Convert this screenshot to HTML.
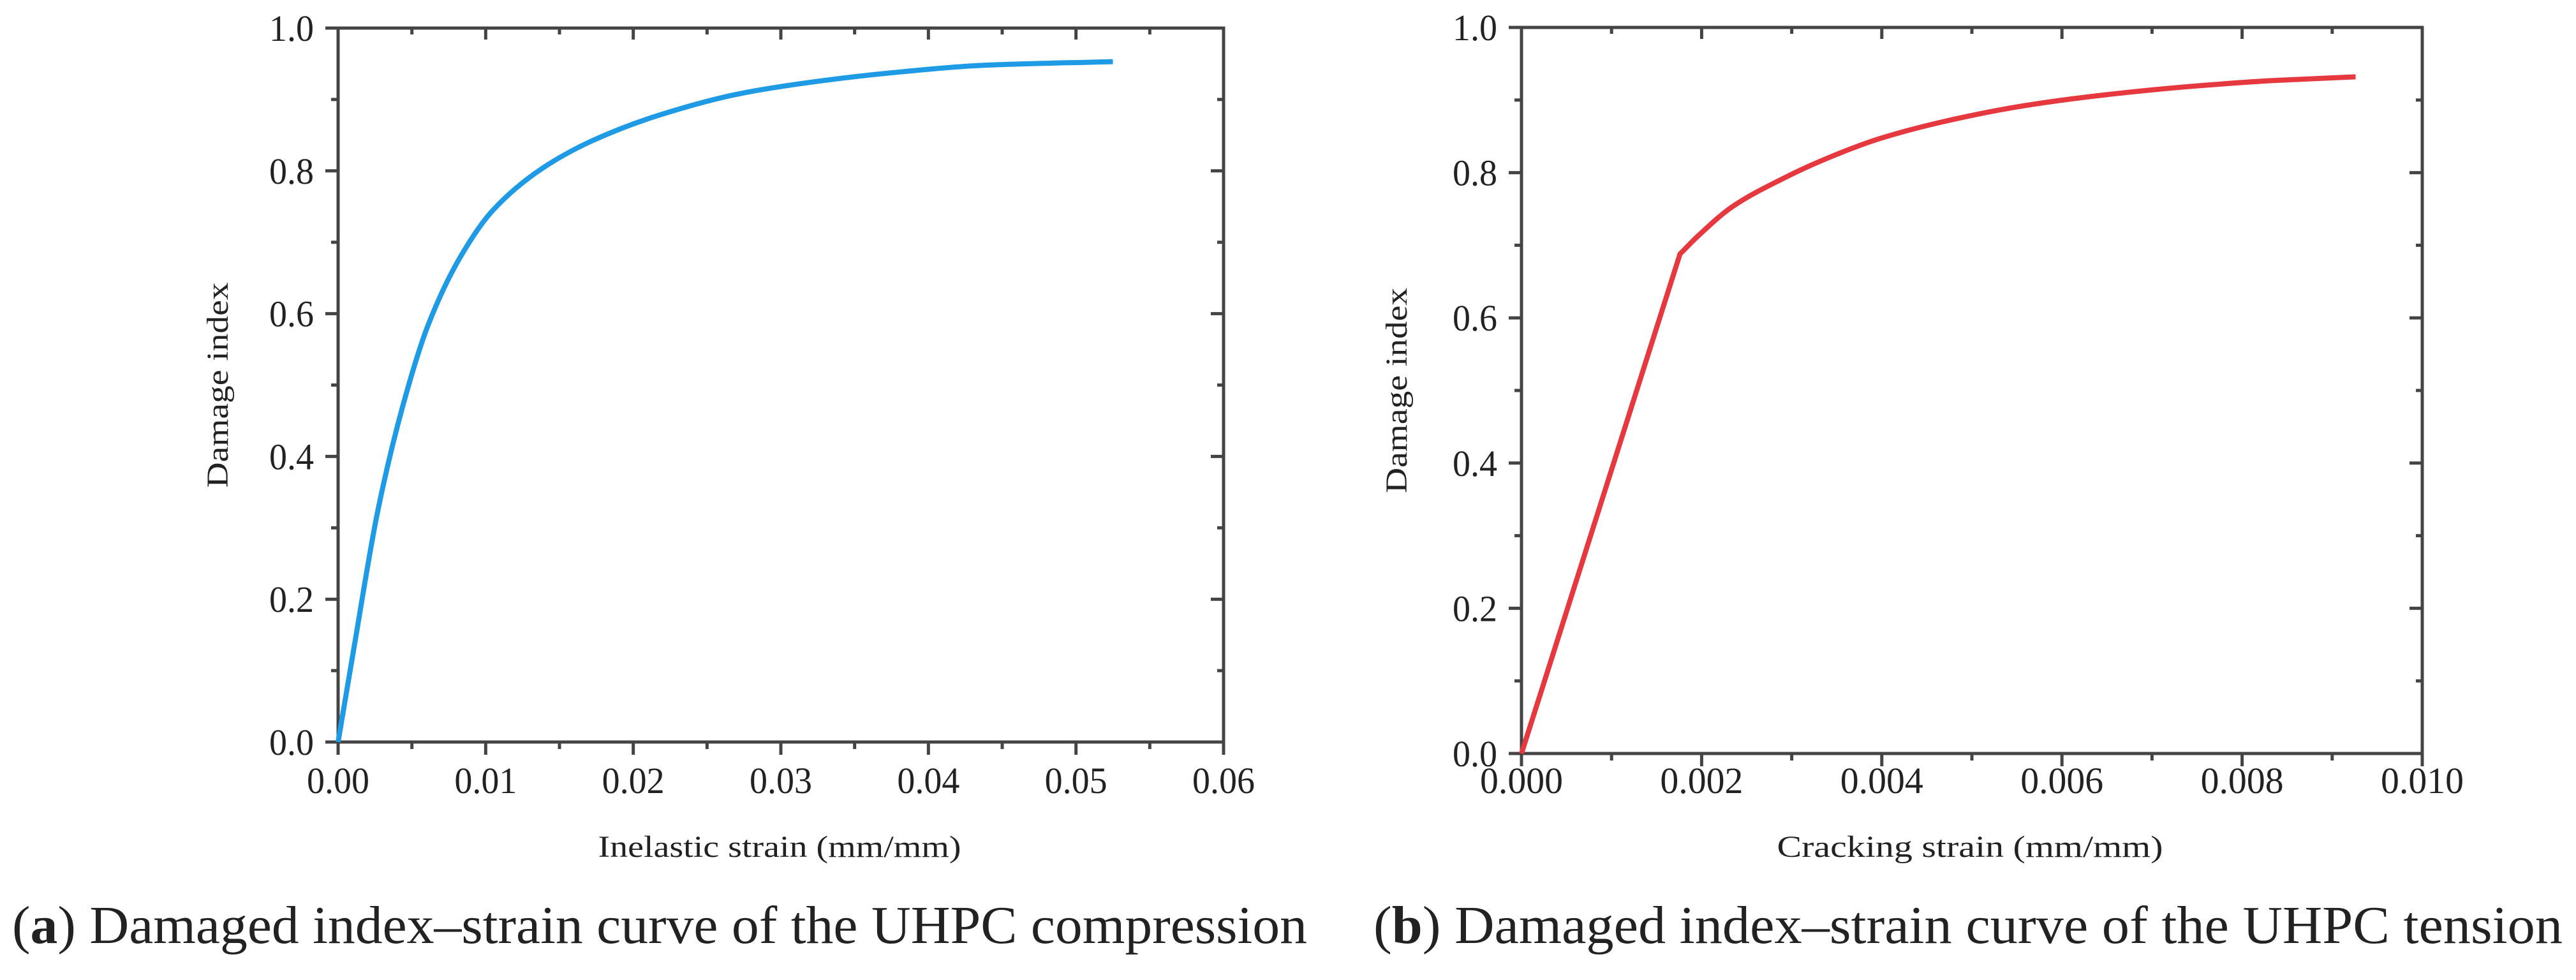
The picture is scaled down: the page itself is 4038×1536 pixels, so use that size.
<!DOCTYPE html>
<html><head><meta charset="utf-8"><style>
html,body{margin:0;padding:0;background:#fff;}
svg{display:block;}
text{font-family:"Liberation Serif",serif;fill:#222;}
</style></head><body>
<svg id="fig" width="4038" height="1536" viewBox="0 0 4038 1536" xmlns="http://www.w3.org/2000/svg">
<g id="panelA"></g>
<g id="panelB"></g>
<text x="19" y="1478" font-size="84" textLength="2030" lengthAdjust="spacingAndGlyphs">(<tspan font-weight="bold">a</tspan>) Damaged index–strain curve of the UHPC compression</text>
<text x="2153" y="1478" font-size="84" textLength="1864" lengthAdjust="spacingAndGlyphs">(<tspan font-weight="bold">b</tspan>) Damaged index–strain curve of the UHPC tension</text>
</svg>
<script>
// Panel A data (compression)
const aStrain = [0, 0.00106, 0.0027, 0.0044, 0.0061, 0.0083, 0.0105, 0.0138, 0.0172, 0.0216, 0.0272, 0.0327, 0.0383, 0.0438, 0.0525];
const aDamage = [0, 0.13, 0.325, 0.472, 0.584, 0.68, 0.745, 0.803, 0.842, 0.877, 0.908, 0.926, 0.939, 0.948, 0.953];
const aXTicks = [0, 0.01, 0.02, 0.03, 0.04, 0.05, 0.06];
const aXTickLabels = ["0.00", "0.01", "0.02", "0.03", "0.04", "0.05", "0.06"];
// Panel B data (tension)
const bStrain = [0, 0.00176, 0.00197, 0.00234, 0.00289, 0.00334, 0.00398, 0.00471, 0.00562, 0.00654, 0.00745, 0.00836, 0.00926];
const bDamage = [0, 0.688, 0.714, 0.753, 0.791, 0.817, 0.847, 0.871, 0.893, 0.908, 0.919, 0.927, 0.932];
const bXTicks = [0, 0.002, 0.004, 0.006, 0.008, 0.010];
const bXTickLabels = ["0.000", "0.002", "0.004", "0.006", "0.008", "0.010"];
const yTicks = [0, 0.2, 0.4, 0.6, 0.8, 1.0];
const yTickLabels = ["0.0", "0.2", "0.4", "0.6", "0.8", "1.0"];

const NS = "http://www.w3.org/2000/svg";
function mk(parent, tag, attrs) {
  const e = document.createElementNS(NS, tag);
  for (const k in attrs) e.setAttribute(k, attrs[k]);
  parent.appendChild(e);
  return e;
}

// monotone cubic (Fritsch-Carlson) path in pixel space; segments before linearUntil are straight
function monoPath(pts, linearUntil) {
  const n = pts.length;
  const P = pts.slice(linearUntil);
  const m = P.length;
  const dx = [], sl = [];
  for (let i = 0; i < m - 1; i++) { dx.push(P[i+1][0] - P[i][0]); sl.push((P[i+1][1] - P[i][1]) / dx[i]); }
  const t = new Array(m);
  t[0] = sl[0]; t[m-1] = sl[m-2];
  for (let i = 1; i < m - 1; i++) {
    if (sl[i-1] * sl[i] <= 0) t[i] = 0;
    else { const w1 = 2*dx[i] + dx[i-1], w2 = dx[i] + 2*dx[i-1]; t[i] = (w1 + w2) / (w1 / sl[i-1] + w2 / sl[i]); }
  }
  let d = "M" + pts[0][0].toFixed(1) + " " + pts[0][1].toFixed(1);
  for (let i = 0; i < linearUntil; i++) d += " L" + pts[i+1][0].toFixed(1) + " " + pts[i+1][1].toFixed(1);
  for (let i = 0; i < m - 1; i++) {
    const h = dx[i] / 3;
    d += " C" + (P[i][0] + h).toFixed(1) + " " + (P[i][1] + t[i]*h).toFixed(1) + " " +
         (P[i+1][0] - h).toFixed(1) + " " + (P[i+1][1] - t[i+1]*h).toFixed(1) + " " +
         P[i+1][0].toFixed(1) + " " + P[i+1][1].toFixed(1);
  }
  return d;
}

function drawPanel(g, o) {
  const sx = v => o.x0 + (v - o.xmin) / (o.xmax - o.xmin) * (o.x1 - o.x0);
  const sy = v => o.y0 - v * (o.y0 - o.y1);
  const axc = "#444";
  const step = o.xTicks[1] - o.xTicks[0];
  for (let i = 0; i < o.xTicks.length; i++) {
    const v = o.xTicks[i], x = sx(v);
    const t = mk(g, "line", {x1: x, x2: x, y1: o.y0, y2: o.y0 + 20, stroke: axc, "stroke-width": 5});
    
    
    const tt = mk(g, "line", {x1: x, x2: x, y1: o.y1, y2: o.y1 + 18, stroke: axc, "stroke-width": 5});
    
    
    const lb = mk(g, "text", {x: x, y: 1243, "font-size": 58, "text-anchor": "middle", textLength: o.xLabW, lengthAdjust: "spacingAndGlyphs"});
    lb.textContent = o.xLabels[i];
    
    
    if (i < o.xTicks.length - 1) {
      const xm = sx(v + step / 2);
      const m = mk(g, "line", {x1: xm, x2: xm, y1: o.y0, y2: o.y0 + 11, stroke: axc, "stroke-width": 5});
      
      
      const mt = mk(g, "line", {x1: xm, x2: xm, y1: o.y1, y2: o.y1 + 10, stroke: axc, "stroke-width": 5});
      
      
    }
  }
  for (let i = 0; i < yTicks.length; i++) {
    const v = yTicks[i], y = sy(v);
    const t = mk(g, "line", {x1: o.x0 - 20, x2: o.x0, y1: y, y2: y, stroke: axc, "stroke-width": 5});
    
    
    const tr = mk(g, "line", {x1: o.x1 - 20, x2: o.x1, y1: y, y2: y, stroke: axc, "stroke-width": 5});
    
    
    const lb = mk(g, "text", {x: o.x0 - 38, y: y + 20, "font-size": 58, "text-anchor": "end", textLength: 70, lengthAdjust: "spacingAndGlyphs"});
    lb.textContent = yTickLabels[i];
    
    
    if (i < yTicks.length - 1) {
      const ym = sy(v + 0.1);
      const m = mk(g, "line", {x1: o.x0 - 11, x2: o.x0, y1: ym, y2: ym, stroke: axc, "stroke-width": 5});
      
      
      const mr = mk(g, "line", {x1: o.x1 - 10, x2: o.x1, y1: ym, y2: ym, stroke: axc, "stroke-width": 5});
      
      
    }
  }
  const fr = mk(g, "rect", {x: o.x0, y: o.y1, width: o.x1 - o.x0, height: o.y0 - o.y1, fill: "none", stroke: axc, "stroke-width": 5});
  
  
  const pts = o.xs.map((v, i) => [sx(v), sy(o.ys[i])]);
  const p = mk(g, "path", {d: monoPath(pts, o.linearUntil), fill: "none", stroke: o.color, "stroke-width": 8, "stroke-linejoin": "round", "stroke-linecap": "butt"});
  
  
  const xt = mk(g, "text", {x: o.xTitleX, y: 1343, "font-size": 48, "text-anchor": "middle", textLength: o.xTitleW, lengthAdjust: "spacingAndGlyphs"});
  xt.textContent = o.xTitle;
  
  
  const cy = (o.y0 + o.y1) / 2;
  const yt = mk(g, "text", {x: o.yTitleX, y: cy, "font-size": 48, "text-anchor": "middle", transform: "rotate(-90 " + o.yTitleX + " " + cy + ")", textLength: 322, lengthAdjust: "spacingAndGlyphs"});
  yt.textContent = "Damage index";
  
  
}

drawPanel(document.getElementById("panelA"), {
  x0: 530, x1: 1918, y0: 1163, y1: 44, xmin: 0, xmax: 0.06,
  xTicks: aXTicks, xLabels: aXTickLabels, xLabW: 98,
  xs: aStrain, ys: aDamage, color: "#1f9be6", lineName: "compression-damage-curve", linearUntil: 0,
  xTitle: "Inelastic strain (mm/mm)", xTitleX: 1222, xTitleW: 569, yTitleX: 357
});
drawPanel(document.getElementById("panelB"), {
  x0: 2385, x1: 3797, y0: 1181, y1: 43, xmin: 0, xmax: 0.010,
  xTicks: bXTicks, xLabels: bXTickLabels, xLabW: 130,
  xs: bStrain, ys: bDamage, color: "#e6393f", lineName: "tension-damage-curve", linearUntil: 1,
  xTitle: "Cracking strain (mm/mm)", xTitleX: 3088, xTitleW: 605, yTitleX: 2205
});
</script>
</body></html>
